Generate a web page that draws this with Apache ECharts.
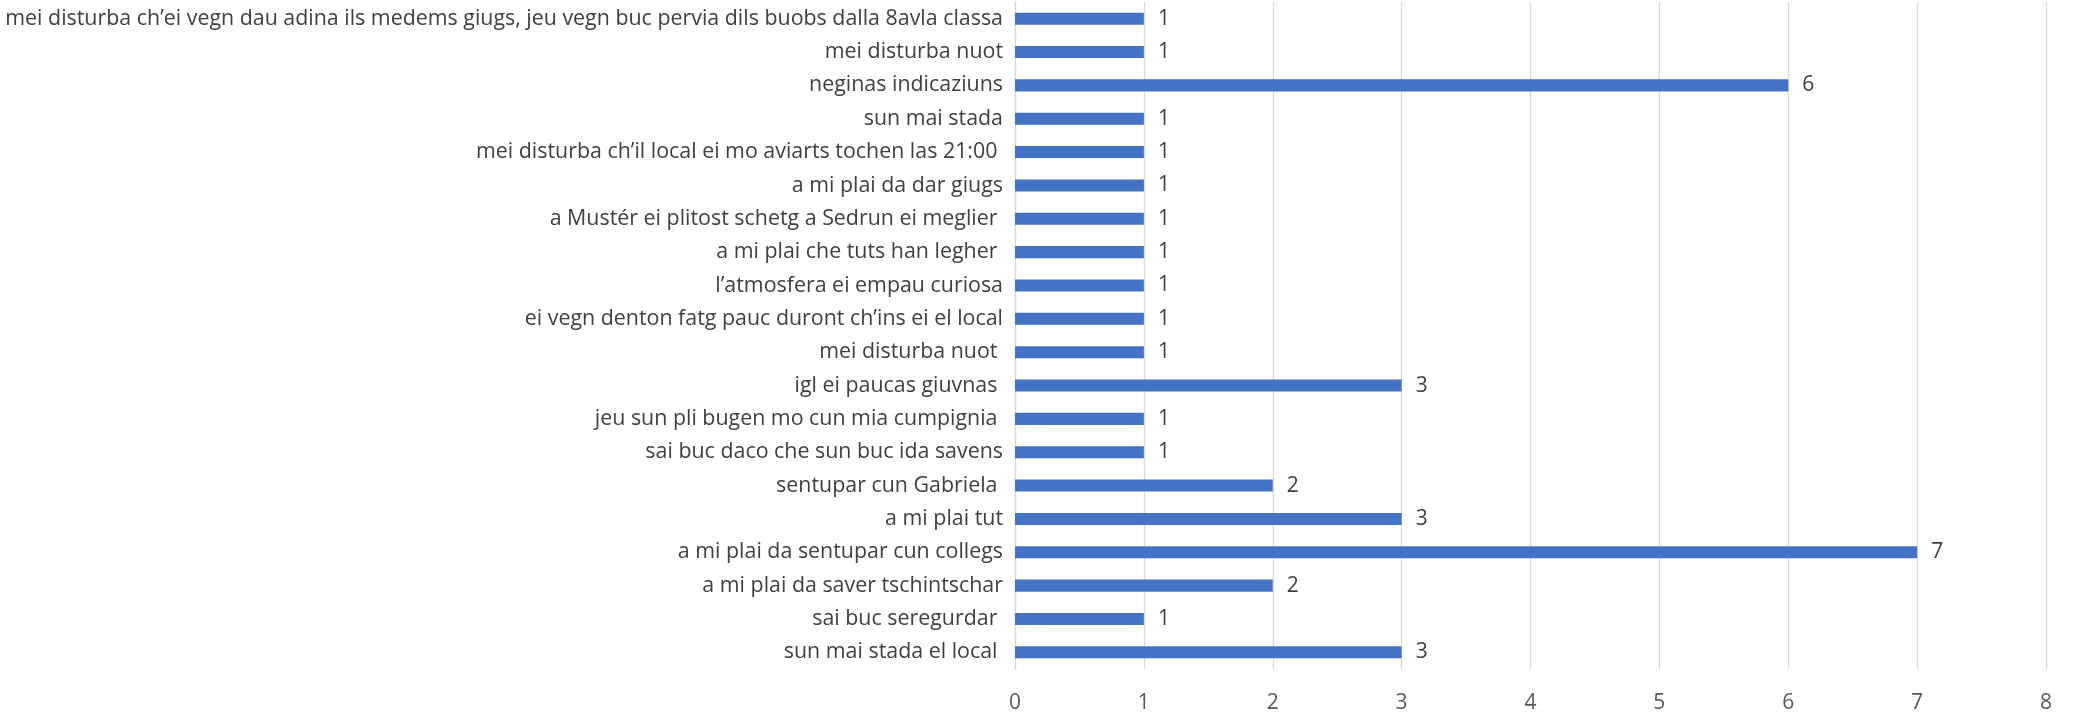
<!DOCTYPE html>
<html>
<head>
<meta charset="utf-8">
<script src="https://cdn.jsdelivr.net/npm/echarts@6/dist/echarts.min.js"></script>
<style>
  html, body { margin: 0; padding: 0; background: #fff; }
  #chart { width: 2082px; height: 714px; }
</style>
</head>
<body>
<div id="chart"></div>
<script>
// answers, top to bottom as in the picture
var categories = [
  "mei disturba ch’ei vegn dau adina ils medems giugs, jeu vegn buc pervia dils buobs dalla 8avla classa",
  "mei disturba nuot",
  "neginas indicaziuns",
  "sun mai stada",
  "mei disturba ch’il local ei mo aviarts tochen las 21:00 ",
  "a mi plai da dar giugs",
  "a Mustér ei plitost schetg a Sedrun ei meglier ",
  "a mi plai che tuts han legher ",
  "l’atmosfera ei empau curiosa",
  "ei vegn denton fatg pauc duront ch’ins ei el local",
  "mei disturba nuot ",
  "igl ei paucas giuvnas ",
  "jeu sun pli bugen mo cun mia cumpignia ",
  "sai buc daco che sun buc ida savens",
  "sentupar cun Gabriela ",
  "a mi plai tut",
  "a mi plai da sentupar cun collegs",
  "a mi plai da saver tschintschar",
  "sai buc seregurdar ",
  "sun mai stada el local "
];
var counts = [1, 1, 6, 1, 1, 1, 1, 1, 1, 1, 1, 3, 1, 1, 2, 3, 7, 2, 1, 3];

var font = "'Open Sans', sans-serif";
var myChart = echarts.init(document.getElementById("chart"));
var option = {
  animation: false,
  grid: { left: 1015, right: 36, top: 2, bottom: 44 },
  xAxis: {
    type: "value",
    min: 0,
    max: 8,
    interval: 1,
    axisLine: { show: false },
    axisTick: { show: false },
    axisLabel: { fontFamily: font, fontSize: 21, color: "#595959", margin: 24 },
    splitLine: { lineStyle: { color: "#d9d9d9", width: 1.3 } }
  },
  yAxis: {
    type: "category",
    inverse: true,
    data: categories,
    axisLine: { show: true, lineStyle: { color: "#d9d9d9", width: 1.3 } },
    axisTick: { show: false },
    axisLabel: { fontFamily: font, fontSize: 21.4, color: "#404040", margin: 12 }
  },
  series: [
    {
      type: "bar",
      data: counts,
      barWidth: "36%",
      itemStyle: { color: "#4472C4" },
      label: {
        show: true,
        position: "right",
        distance: 14,
        fontFamily: font,
        fontSize: 21,
        color: "#404040"
      }
    }
  ]
};
myChart.setOption(option);
</script>
</body>
</html>
